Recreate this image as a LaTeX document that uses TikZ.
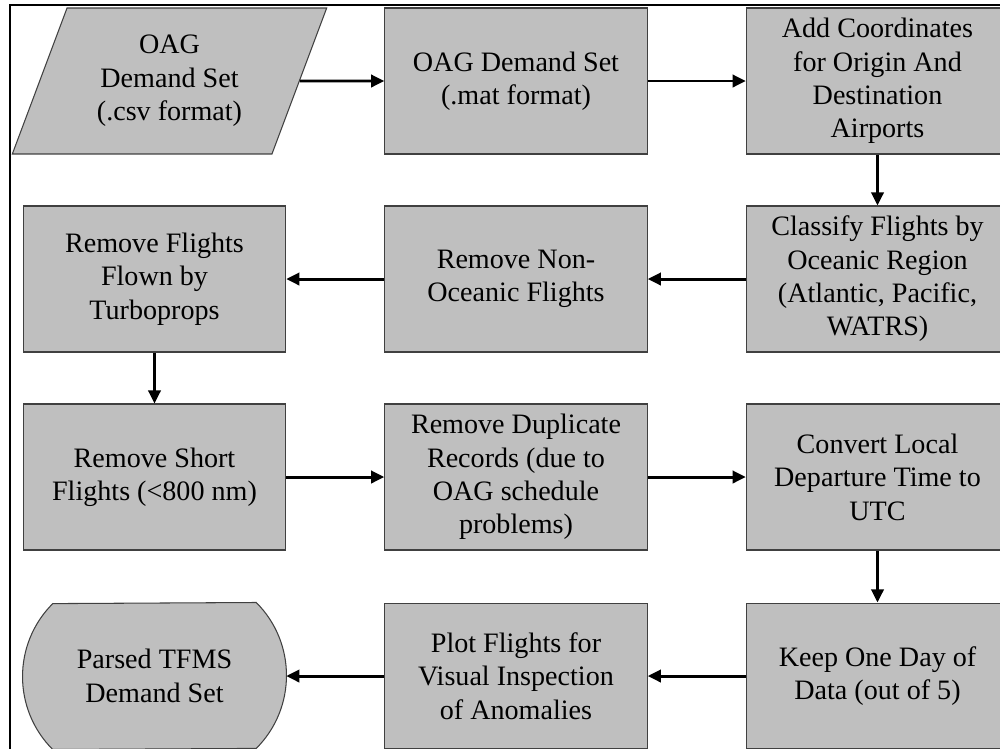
\documentclass[tikz,border=0pt]{standalone}
\usepackage{fontspec}
\setmainfont{Liberation Serif}
\usetikzlibrary{arrows.meta,shapes.geometric,calc,backgrounds}

\begin{document}
\begin{tikzpicture}[x=0.02cm,y=-0.02cm,
	box/.style={draw=black!75,line width=0.6pt,fill=black!25,minimum width=5.25cm,minimum height=2.92cm,align=center,inner sep=0pt,font=\fontsize{16}{19}\selectfont},
	flow/.style={black,line width=1.7pt,-{Triangle[length=7.5pt,width=7pt]}}]
	\useasboundingbox (0,0) rectangle (1000,748);
	\clip (0,0) rectangle (1000,748);
	\draw [black,line width=1.7pt] (10,5) rectangle (1040,780);
	\node (csv) at (169.5,81) [box,trapezium,trapezium left angle=67,trapezium right angle=113,trapezium stretches=true,minimum width=6.3cm] {OAG\\Demand Set\\(.csv format)};
	\node (mat) at (516,81) [box] {OAG Demand Set\\(.mat format)};
	\node (coords) at (877.5,81) [box] {Add Coordinates\\for Origin And\\Destination\\Airports};
	\node (classify) at (877.5,279) [box] {Classify Flights by\\Oceanic Region\\(Atlantic, Pacific,\\WATRS)};
	\node (oceanic) at (516,279) [box] {Remove Non-\\Oceanic Flights};
	\node (turbo) at (154.5,279) [box] {Remove Flights\\Flown by\\Turboprops};
	\node (short) at (154.5,477) [box] {Remove Short\\Flights (<800 nm)};
	\node (dupl) at (516,477) [box] {Remove Duplicate\\Records (due to\\OAG schedule\\problems)};
	\node (utc) at (877.5,477) [box] {Convert Local\\Departure Time to\\UTC};
	\node (oneday) at (877.5,676) [box] {Keep One Day of\\Data (out of 5)};
	\node (plot) at (516,676) [box] {Plot Flights for\\Visual Inspection\\of Anomalies};
	\node (tfms) at (154.5,676) [box,draw=none,fill=none] {Parsed TFMS\\Demand Set};
	\begin{scope}[on background layer]
	\clip (0,0) rectangle (1000,748);
	\draw [draw=black!75,line width=0.6pt,fill=black!25] ($(tfms.north east)+(-30,0)$) arc[start angle=45,end angle=-45,radius=2.064cm] -- ($(tfms.south west)+(30,0)$) arc[start angle=225,end angle=135,radius=2.064cm] -- cycle;
	\end{scope}
	\draw [flow] (csv.east) -- (mat.west);
	\draw [flow] (mat.east) -- (coords.west);
	\draw [flow] (coords.south) -- (classify.north);
	\draw [flow] (classify.west) -- (oceanic.east);
	\draw [flow] (oceanic.west) -- (turbo.east);
	\draw [flow] (turbo.south) -- (short.north);
	\draw [flow] (short.east) -- (dupl.west);
	\draw [flow] (dupl.east) -- (utc.west);
	\draw [flow] (utc.south) -- (oneday.north);
	\draw [flow] (oneday.west) -- (plot.east);
	\draw [flow] (plot.west) -- (tfms.east);
\end{tikzpicture}
\end{document}
